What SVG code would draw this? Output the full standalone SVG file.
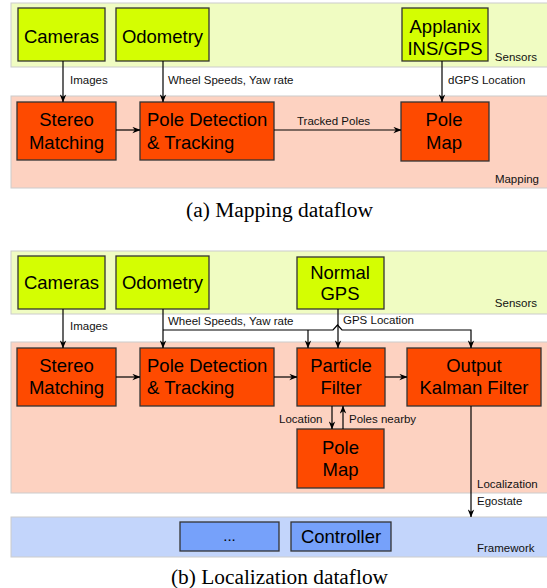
<svg xmlns="http://www.w3.org/2000/svg" width="547" height="588" viewBox="0 0 547 588">
<defs>
<marker id="ah" viewBox="0 0 10 8" refX="9.5" refY="4" markerWidth="8" markerHeight="7" orient="auto" markerUnits="userSpaceOnUse">
<path d="M0,0 L10,4 L0,8 L3,4 z" fill="#000"/>
</marker>
</defs>
<style>
.bandS{fill:#f0fcc2;stroke:#cccccc;stroke-width:1}
.bandM{fill:#fdd2c1;stroke:#cccccc;stroke-width:1}
.bandF{fill:#c3d5fb;stroke:#cccccc;stroke-width:1}
.sens{fill:#d4fe02;stroke:#333;stroke-width:1.3}
.proc{fill:#fe4a00;stroke:#333;stroke-width:1.3}
.fw{fill:#76a1fa;stroke:#333;stroke-width:1.3}
.nt{font-family:"Liberation Sans",Arial,sans-serif;font-size:18.5px;fill:#000}
.c{text-anchor:middle}
.lb{font-family:"Liberation Sans",Arial,sans-serif;font-size:11.5px;fill:#111}
.end{text-anchor:end}
.cap{font-family:"Liberation Serif","Times New Roman",serif;font-size:20px;fill:#000;text-anchor:middle}
.ln{fill:none;stroke:#000;stroke-width:1.2}
.ar{marker-end:url(#ah)}
</style>

<!-- ===== (a) Mapping dataflow ===== -->
<g id="a-bands">
<rect class="bandS" x="11" y="3" width="545" height="64"/>
<rect class="bandM" x="11" y="96" width="545" height="92"/>
<text class="lb end" x="537" y="61">Sensors</text>
<text class="lb end" x="539" y="183">Mapping</text>
</g>
<g id="a-cameras"><rect class="sens" x="18" y="8" width="87" height="53"/><text class="nt c" x="61.5" y="42.5">Cameras</text></g>
<g id="a-odometry"><rect class="sens" x="116" y="8" width="93" height="53"/><text class="nt c" x="162.5" y="42.5">Odometry</text></g>
<g id="a-applanix"><rect class="sens" x="402" y="8" width="86" height="53"/><text class="nt c" x="445" y="32.5">Applanix</text><text class="nt c" x="445" y="55">INS/GPS</text></g>
<g id="a-stereo"><rect class="proc" x="17" y="102" width="99" height="58"/><text class="nt c" x="66.5" y="126">Stereo</text><text class="nt c" x="66.5" y="148.5">Matching</text></g>
<g id="a-poledet"><rect class="proc" x="140" y="102" width="134" height="58"/><text class="nt" x="147" y="126">Pole Detection</text><text class="nt" x="147" y="148.5">&amp; Tracking</text></g>
<g id="a-polemap"><rect class="proc" x="401" y="102" width="88" height="59"/><text class="nt c" x="444" y="126">Pole</text><text class="nt c" x="444" y="148.5">Map</text></g>
<g id="a-connectors">
<line class="ln ar" x1="63" y1="61" x2="63" y2="102"/>
<line class="ln ar" x1="163" y1="61" x2="163" y2="102"/>
<line class="ln ar" x1="442" y1="61" x2="442" y2="102"/>
<line class="ln ar" x1="116" y1="130" x2="140" y2="130"/>
<line class="ln ar" x1="274" y1="130" x2="401" y2="130"/>
<text class="lb" x="70" y="84">Images</text>
<text class="lb" x="168" y="84">Wheel Speeds, Yaw rate</text>
<text class="lb" x="448" y="84">dGPS Location</text>
<text class="lb" x="297" y="125">Tracked Poles</text>
</g>
<text class="cap" x="279.5" y="217" textLength="187" lengthAdjust="spacingAndGlyphs">(a) Mapping dataflow</text>

<!-- ===== (b) Localization dataflow ===== -->
<g id="b-bands">
<rect class="bandS" x="11" y="251" width="545" height="63"/>
<rect class="bandM" x="11" y="342" width="545" height="151"/>
<rect class="bandF" x="11" y="517" width="545" height="40"/>
<text class="lb end" x="537" y="307">Sensors</text>
<text class="lb" x="477" y="488">Localization</text>
<text class="lb" x="477" y="505">Egostate</text>
<text class="lb" x="477" y="552">Framework</text>
</g>
<g id="b-cameras"><rect class="sens" x="18" y="256" width="87" height="53"/><text class="nt c" x="61.5" y="288.5">Cameras</text></g>
<g id="b-odometry"><rect class="sens" x="116" y="256" width="93" height="53"/><text class="nt c" x="162.5" y="288.5">Odometry</text></g>
<g id="b-gps"><rect class="sens" x="297" y="257" width="87" height="52"/><text class="nt c" x="340" y="278.5">Normal</text><text class="nt c" x="340" y="300">GPS</text></g>
<g id="b-stereo"><rect class="proc" x="17" y="348" width="99" height="58"/><text class="nt c" x="66.5" y="371.5">Stereo</text><text class="nt c" x="66.5" y="393.5">Matching</text></g>
<g id="b-poledet"><rect class="proc" x="140" y="348" width="134" height="58"/><text class="nt" x="147" y="371.5">Pole Detection</text><text class="nt" x="147" y="393.5">&amp; Tracking</text></g>
<g id="b-particle"><rect class="proc" x="297" y="348" width="88" height="58"/><text class="nt c" x="341" y="371.5">Particle</text><text class="nt c" x="341" y="393.5">Filter</text></g>
<g id="b-kalman"><rect class="proc" x="407" y="348" width="134" height="58"/><text class="nt c" x="474" y="371.5">Output</text><text class="nt c" x="474" y="393.5">Kalman Filter</text></g>
<g id="b-polemap"><rect class="proc" x="297" y="429" width="87" height="59"/><text class="nt c" x="340.5" y="453.5">Pole</text><text class="nt c" x="340.5" y="475.5">Map</text></g>
<g id="b-dots"><rect class="fw" x="180" y="522" width="99" height="29"/><text class="nt c" x="229.5" y="541" style="font-size:15px">...</text></g>
<g id="b-controller"><rect class="fw" x="291" y="522" width="100" height="29"/><text class="nt c" x="341" y="542.5">Controller</text></g>
<g id="b-connectors">
<line class="ln ar" x1="63" y1="309" x2="63" y2="348"/>
<line class="ln ar" x1="163" y1="309" x2="163" y2="348"/>
<path class="ln ar" d="M163,330 H333 L337.5,325 L342,330 H471 V348"/>
<line class="ln ar" x1="308" y1="330" x2="308" y2="348"/>
<line class="ln ar" x1="338" y1="309" x2="338" y2="348"/>
<line class="ln ar" x1="116" y1="377" x2="140" y2="377"/>
<line class="ln ar" x1="274" y1="377" x2="297" y2="377"/>
<line class="ln ar" x1="385" y1="377" x2="407" y2="377"/>
<line class="ln ar" x1="332" y1="406" x2="332" y2="429"/>
<line class="ln ar" x1="343" y1="429" x2="343" y2="406"/>
<line class="ln ar" x1="471" y1="406" x2="471" y2="517"/>
<text class="lb" x="70" y="330">Images</text>
<text class="lb" x="168" y="325">Wheel Speeds, Yaw rate</text>
<text class="lb" x="343" y="324">GPS Location</text>
<text class="lb" x="279" y="423">Location</text>
<text class="lb" x="349" y="423">Poles nearby</text>
</g>
<text class="cap" x="279.5" y="584" textLength="217" lengthAdjust="spacingAndGlyphs">(b) Localization dataflow</text>
</svg>
